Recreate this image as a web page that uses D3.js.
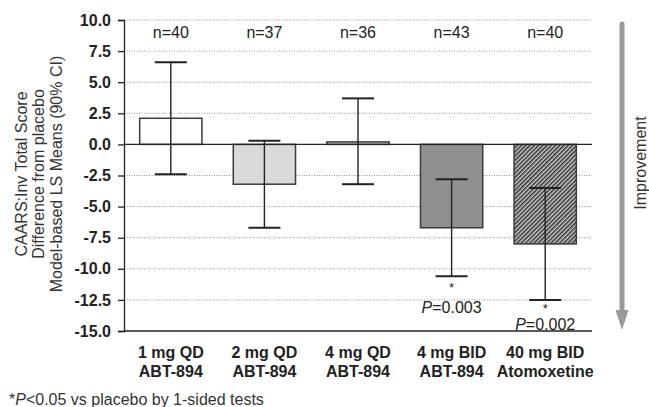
<!DOCTYPE html>
<meta charset="utf-8">
<body style="margin:0;background:#fff">

<script src="https://d3js.org/d3.v7.min.js"></script>

<div id="my_dataviz"></div>

<script>

// data
var groups    = ["1 mg QD", "2 mg QD", "4 mg QD", "4 mg BID", "40 mg BID"];
var drugs     = ["ABT-894", "ABT-894", "ABT-894", "ABT-894", "Atomoxetine"];
var means     = [2.1, -3.2, 0.2, -6.7, -8.0];
var ciLow     = [-2.4, -6.7, -3.2, -10.6, -12.5];
var ciHigh    = [6.6, 0.3, 3.7, -2.8, -3.5];
var nLabels   = ["n=40", "n=37", "n=36", "n=43", "n=40"];
var pLabels   = [null, null, null, "=0.003", "=0.002"];
var yTicks    = [-15, -12.5, -10, -7.5, -5, -2.5, 0, 2.5, 5, 7.5, 10];

var W = 649, H = 407;
var margin = {top: 20, right: 57, bottom: 76, left: 124},
    width = W - margin.left - margin.right,
    height = H - margin.top - margin.bottom;

var fills = ["#ffffff", "#d9d9d9", "#d9d9d9", "#909090", "url(#hatch)"];

var svg0 = d3.select("#my_dataviz")
  .append("svg")
    .attr("width", W)
    .attr("height", H)
    .style("font-family", "Arial, 'Liberation Sans', sans-serif");

// hatch pattern for atomoxetine bar
var pat = svg0.append("defs").append("pattern")
    .attr("id", "hatch")
    .attr("patternUnits", "userSpaceOnUse")
    .attr("width", 3)
    .attr("height", 3)
    .attr("patternTransform", "rotate(45)");
pat.append("rect").attr("width", 3).attr("height", 3).attr("fill", "#c8c8c8");
pat.append("line").attr("x1", 0.75).attr("y1", 0).attr("x2", 0.75).attr("y2", 3)
    .attr("stroke", "#2a2a2a").attr("stroke-width", 1.4);

var svg = svg0.append("g")
    .attr("transform", "translate(" + margin.left + "," + margin.top + ")");

var x = d3.scaleBand()
  .domain(groups.map(function(d, i) { return i; }))
  .range([0, width]);
var bw = x.bandwidth() * 0.665;

var y = d3.scaleLinear()
  .domain([-15, 10])
  .range([height, 0]);

// dotted grid
svg.selectAll(".grid")
  .data(yTicks.filter(function(t) { return t != 0 && t != -15; }))
  .enter().append("line")
    .attr("x1", 0).attr("x2", width)
    .attr("y1", function(d) { return y(d); })
    .attr("y2", function(d) { return y(d); })
    .attr("stroke", "#777")
    .attr("stroke-width", 0.8)
    .attr("stroke-dasharray", "1,1.5");

// left axis
var yAxis = svg.append("g")
  .call(d3.axisLeft(y).tickValues(yTicks).tickSize(6).tickPadding(7)
        .tickFormat(d3.format(".1f")));
yAxis.select(".domain").attr("stroke", "#222").attr("stroke-width", 1.3);
yAxis.selectAll(".tick line").attr("stroke", "#222").attr("stroke-width", 1.3);
yAxis.selectAll("text")
  .style("font-size", "16px")
  .style("font-weight", "bold")
  .attr("fill", "#222")
  .text(function(d) { return d3.format(".1f")(d).replace("−", "-"); });

// bottom line
svg.append("line")
  .attr("x1", 0).attr("x2", width)
  .attr("y1", y(-15)).attr("y2", y(-15))
  .attr("stroke", "#222").attr("stroke-width", 1.3);

// bars
svg.selectAll(".bar")
  .data(means)
  .enter().append("rect")
    .attr("x", function(d, i) { return x(i) + (x.bandwidth() - bw) / 2; })
    .attr("width", bw)
    .attr("y", function(d) { return y(Math.max(0, d)); })
    .attr("height", function(d) { return Math.abs(y(d) - y(0)); })
    .attr("fill", function(d, i) { return fills[i]; })
    .attr("stroke", "#3a3a3a")
    .attr("stroke-width", 1.5);

// zero line
svg.append("line")
  .attr("x1", 0).attr("x2", width)
  .attr("y1", y(0)).attr("y2", y(0))
  .attr("stroke", "#222").attr("stroke-width", 1.3);

// error bars
var cx = function(i) { return x(i) + x.bandwidth() / 2; };
var capW = 16;
var err = svg.selectAll(".err")
  .data(means)
  .enter().append("g");
err.append("line")
  .attr("x1", function(d, i) { return cx(i); })
  .attr("x2", function(d, i) { return cx(i); })
  .attr("y1", function(d, i) { return y(ciHigh[i]); })
  .attr("y2", function(d, i) { return y(ciLow[i]); })
  .attr("stroke", "#222").attr("stroke-width", 1.4);
err.append("line")
  .attr("x1", function(d, i) { return cx(i) - capW; })
  .attr("x2", function(d, i) { return cx(i) + capW; })
  .attr("y1", function(d, i) { return y(ciHigh[i]); })
  .attr("y2", function(d, i) { return y(ciHigh[i]); })
  .attr("stroke", "#222").attr("stroke-width", 2);
err.append("line")
  .attr("x1", function(d, i) { return cx(i) - capW; })
  .attr("x2", function(d, i) { return cx(i) + capW; })
  .attr("y1", function(d, i) { return y(ciLow[i]); })
  .attr("y2", function(d, i) { return y(ciLow[i]); })
  .attr("stroke", "#222").attr("stroke-width", 2);

// n labels
svg.selectAll(".nlab")
  .data(nLabels)
  .enter().append("text")
    .attr("x", function(d, i) { return cx(i); })
    .attr("y", 18)
    .attr("text-anchor", "middle")
    .style("font-size", "16px")
    .attr("fill", "#222")
    .text(function(d) { return d; });

// significance marks: small asterisk under the cap, P value below it
pLabels.forEach(function(p, i) {
  if (!p) return;
  var capY = y(ciLow[i]);
  svg.append("text")
    .attr("x", cx(i))
    .attr("y", capY + (i == 3 ? 16 : 13.3))
    .attr("text-anchor", "middle")
    .style("font-size", "13px")
    .attr("fill", "#222")
    .text("*");
  var t = svg.append("text")
    .attr("x", cx(i))
    .attr("y", capY + (i == 3 ? 37 : 30.3))
    .attr("text-anchor", "middle")
    .style("font-size", "16px")
    .attr("fill", "#222");
  t.append("tspan").style("font-style", "italic").text("P");
  t.append("tspan").text(p);
});

// category labels
var cat = svg.selectAll(".cat")
  .data(groups)
  .enter().append("text")
    .attr("x", function(d, i) { return cx(i); })
    .attr("y", height + 27)
    .attr("text-anchor", "middle")
    .style("font-size", "16px")
    .style("font-weight", "bold")
    .attr("fill", "#222");
cat.append("tspan").text(function(d) { return d; });
cat.append("tspan")
  .attr("x", function(d, i) { return cx(i); })
  .attr("dy", 19)
  .text(function(d, i) { return drugs[i]; });

// y axis title
var yt = svg0.append("text")
  .attr("transform", "translate(26.5," + 174 + ") rotate(-90)")
  .attr("text-anchor", "middle")
  .style("font-size", "16px")
  .attr("fill", "#333");
["CAARS:Inv Total Score", "Difference from placebo", "Model-based LS Means (90% CI)"]
  .forEach(function(s, k) {
    yt.append("tspan").attr("x", 0).attr("dy", k == 0 ? 0 : 17.8).text(s);
  });

// improvement arrow
svg0.append("line")
  .attr("x1", 622).attr("x2", 622)
  .attr("y1", 24).attr("y2", 312)
  .attr("stroke", "#999").attr("stroke-width", 5)
  .attr("stroke-linecap", "round");
svg0.append("path")
  .attr("d", "M615.5,310 L628.5,310 L622,330 Z")
  .attr("fill", "#999");
svg0.append("text")
  .attr("transform", "translate(645.5,163) rotate(-90)")
  .attr("text-anchor", "middle")
  .style("font-size", "16px")
  .attr("fill", "#333")
  .text("Improvement");

// footnote
var fn = svg0.append("text")
  .attr("x", 9)
  .attr("y", 405)
  .style("font-size", "16px")
  .attr("fill", "#333");
fn.append("tspan").text("*");
fn.append("tspan").style("font-style", "italic").text("P");
fn.append("tspan").text("<0.05 vs placebo by 1-sided tests");

</script>
</body>
